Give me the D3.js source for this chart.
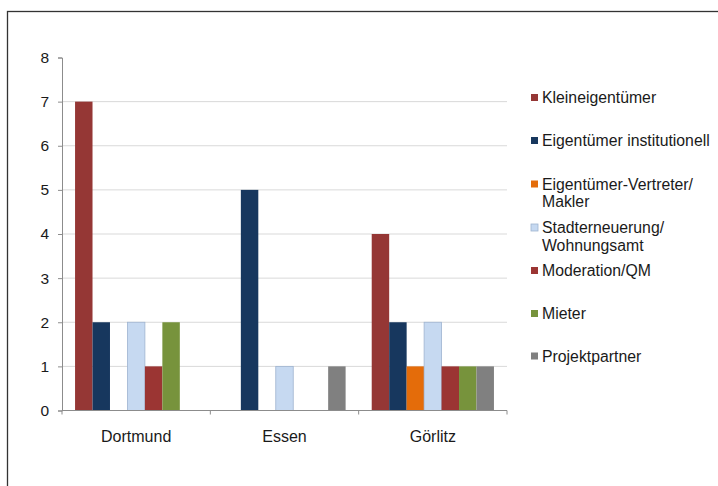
<!DOCTYPE html>
<html><head><meta charset="utf-8">
<script src="https://cdn.jsdelivr.net/npm/d3@7/dist/d3.min.js"></script>
<style>body{margin:0;background:#fff;} svg{display:block;font-family:"Liberation Sans",Arial,sans-serif;}</style>
</head><body>
<svg id="c" width="718" height="486"></svg>
<script>
const categories = ["Dortmund", "Essen", "Görlitz"];
const seriesNames = ["Kleineigentümer", "Eigentümer institutionell", "Eigentümer-Vertreter/\nMakler", "Stadterneuerung/\nWohnungsamt", "Moderation/QM", "Mieter", "Projektpartner"];
const seriesColors = ["#953735", "#17375E", "#E46C0A", "#C6D9F1", "#9B3533", "#77933C", "#808080"];
const kleineigentuemer = [7, 0, 4];
const eigentuemerInst = [2, 5, 2];
const vertreterMakler = [0, 0, 1];
const stadterneuerung = [2, 1, 2];
const moderation = [1, 0, 1];
const mieter = [2, 0, 1];
const projektpartner = [0, 1, 1];
const yTicks = [0, 1, 2, 3, 4, 5, 6, 7, 8];

const seriesValues = [kleineigentuemer, eigentuemerInst, vertreterMakler, stadterneuerung, moderation, mieter, projektpartner];

const svg = d3.select("#c");
// frame
svg.append("rect").attr("x", 7.5).attr("y", 11.5).attr("width", 760).attr("height", 520)
  .attr("fill", "none").attr("stroke", "#333").attr("stroke-width", 1.3);

const pLeft = 62, pRight = 507, pTop = 57.5, pBottom = 410.5;
const x = d3.scaleBand().domain(categories).range([pLeft, pRight]).paddingInner(0).paddingOuter(0);
const y = d3.scaleLinear().domain([0, 8]).range([pBottom, pTop]);
const gap = x.bandwidth() * 0.176;
const xs = d3.scaleBand().domain(d3.range(seriesNames.length)).range([gap / 2, x.bandwidth() - gap / 2]).padding(0);

// gridlines
svg.append("g").selectAll("line").data(yTicks.filter(t => t > 0 && t < 8)).join("line")
  .attr("x1", pLeft).attr("x2", pRight).attr("y1", d => y(d)).attr("y2", d => y(d))
  .attr("stroke", "#d9d9d9").attr("stroke-width", 1);

// bars
const g = svg.append("g");
categories.forEach((c, ci) => {
  seriesValues.forEach((vals, si) => {
    const v = vals[ci];
    if (v <= 0) return;
    g.append("rect")
      .attr("x", x(c) + xs(si)).attr("width", xs.bandwidth())
      .attr("y", y(v)).attr("height", y(0) - y(v))
      .attr("fill", seriesColors[si])
      .attr("stroke", si === 3 ? "#9fb4d0" : "none").attr("stroke-width", 0.8);
  });
});

// y axis
const ya = d3.axisLeft(y).tickValues(yTicks).tickSize(4).tickPadding(9).tickFormat(d3.format("d"));
const yg = svg.append("g").attr("transform", `translate(${pLeft},0)`).call(ya);
yg.select(".domain").attr("stroke", "#8c8c8c");
yg.selectAll(".tick line").attr("stroke", "#8c8c8c");
yg.selectAll("text").attr("font-size", 15.5).attr("fill", "#1a1a1a").attr("font-family", "Liberation Sans, Arial, sans-serif");

// x axis
const xa = svg.append("g");
xa.append("line").attr("x1", pLeft).attr("x2", pRight).attr("y1", pBottom).attr("y2", pBottom).attr("stroke", "#8c8c8c");
const bounds = [pLeft].concat(categories.map(c => x(c) + x.bandwidth()));
xa.selectAll("line.t").data(bounds).join("line").attr("class", "t")
  .attr("x1", d => d).attr("x2", d => d).attr("y1", pBottom).attr("y2", pBottom + 4).attr("stroke", "#8c8c8c");
xa.selectAll("text").data(categories).join("text")
  .attr("x", d => x(d) + x.bandwidth() / 2).attr("y", 441.5)
  .attr("text-anchor", "middle").attr("font-size", 16).attr("fill", "#1a1a1a").text(d => d);

// legend
const legY = [97.5, 140.5, 184, 227.5, 270.5, 313.5, 356];
const leg = svg.append("g");
seriesNames.forEach((n, i) => {
  const yy = legY[i];
  leg.append("rect").attr("x", 531).attr("y", yy - 3.5).attr("width", 7).attr("height", 7)
    .attr("fill", seriesColors[i]).attr("stroke", i === 3 ? "#9fb4d0" : "none").attr("stroke-width", 0.8);
  const lines = n.split("\n");
  const t = leg.append("text").attr("x", 542).attr("y", yy + 5.5).attr("font-size", 15.8).attr("fill", "#1a1a1a");
  lines.forEach((l, li) => t.append("tspan").attr("x", 542).attr("dy", li === 0 ? 0 : 17.5).text(l));
});
</script>
</body></html>
